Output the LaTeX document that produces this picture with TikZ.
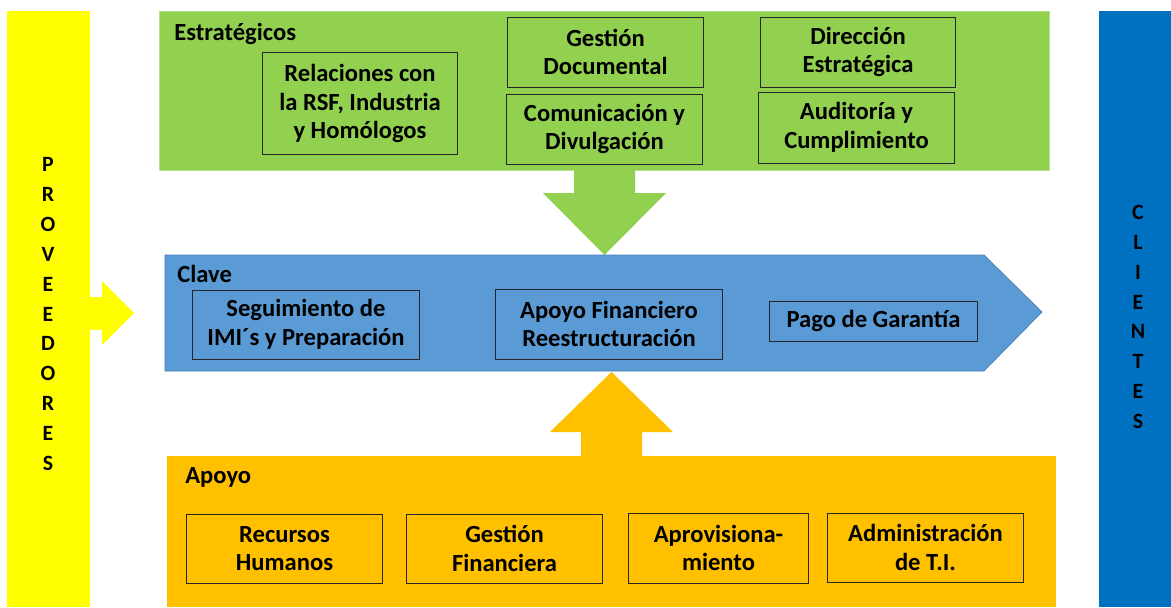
\documentclass[tikz,border=0pt]{standalone}
\usepackage{fontspec}
\setmainfont{Carlito}
\usetikzlibrary{positioning}
\definecolor{provyellow}{HTML}{FFFF00}
\definecolor{estgreen}{HTML}{92D050}
\definecolor{estedge}{HTML}{B4E38A}
\definecolor{claveblue}{HTML}{5B9BD5}
\definecolor{claveedge}{HTML}{4A7FB5}
\definecolor{apoyoorange}{HTML}{FFC000}
\definecolor{clientblue}{HTML}{0070C0}

\begin{document}
\begin{tikzpicture}[x=0.025cm,y=-0.025cm,
    panel/.style={inner sep=0pt, outer sep=0pt},
    procbox/.style={draw=black!85, line width=0.7pt, align=center, inner sep=0pt,
        font=\bfseries\fontsize{17.5}{20.4}\selectfont},
    grouptitle/.style={anchor=base west, inner sep=0pt, font=\bfseries\fontsize{17.5}{20.4}\selectfont},
    sideword/.style={align=center, inner sep=0pt, font=\bfseries\fontsize{15.5}{21.2}\selectfont}]
                        \useasboundingbox (0,0) rectangle (1171,607);

                        % Drawing side bar Proveedores
                        \node[panel, fill=provyellow, minimum width=2.075cm, minimum height=14.9cm] (prov) at (48.5,309) {};%
                        \node[sideword] (provtext) at (48,314) {P\\R\\O\\V\\E\\E\\D\\O\\R\\E\\S};%

                        % Drawing side bar Clientes
                        \node[panel, fill=clientblue, minimum width=1.8cm, minimum height=14.9cm] (cli) at (1135,309) {};%
                        \node[sideword] (clitext) at (1138,317) {C\\L\\I\\E\\N\\T\\E\\S};%

                        % Drawing arrow from Proveedores
                        \fill[provyellow] (89,297) -- (102,297) -- (102,281) -- (134,313) -- (102,345) -- (102,330) -- (89,330) -- cycle;%

                        % Drawing panel Estrategicos
                        \node[panel, fill=estgreen, draw=estedge, line width=0.6pt, minimum width=22.225cm, minimum height=3.975cm] (estrat) at (604.5,90.5) {};%
                        \node[grouptitle] (estrattitle) at (174,40) {Estratégicos};%

                        % Drawing arrow Estrategicos to Clave
                        \fill[estgreen] (574,169) -- (635,169) -- (635,193) -- (666,193) -- (604.5,255) -- (543,193) -- (574,193) -- cycle;%

                        % Drawing panel Clave
                        \filldraw[fill=claveblue, draw=claveedge, line width=0.5pt] (165,255) -- (984,255) -- (1042,312) -- (984,371) -- (165,371) -- cycle;%
                        \node[grouptitle] (clavetitle) at (177,282) {Clave};%

                        % Drawing panel Apoyo
                        \node[panel, fill=apoyoorange, minimum width=22.225cm, minimum height=3.775cm] (apoyo) at (611.5,531.5) {};%
                        \node[grouptitle] (apoyotitle) at (185,483) {Apoyo};%

                        % Drawing arrow Apoyo to Clave
                        \fill[apoyoorange] (581,457) -- (642,457) -- (642,432) -- (673,432) -- (611.5,372) -- (550,432) -- (581,432) -- cycle;%

                        % Marking boxes Estrategicos
                        \node[procbox, minimum width=4.85cm, minimum height=2.525cm] (rsf) at (360,103.5) {Relaciones con\\la RSF, Industria\\y Homólogos};%
                        \node[procbox, minimum width=4.875cm, minimum height=1.75cm] (gesdoc) at (605.5,52) {Gestión\\Documental};%
                        \node[procbox, minimum width=4.875cm, minimum height=1.75cm] (comdiv) at (604.5,129) {Comunicación y\\Divulgación};%
                        \node[procbox, minimum width=4.85cm, minimum height=1.75cm] (direst) at (858,52) {Dirección\\Estratégica};%
                        \node[procbox, minimum width=4.875cm, minimum height=1.775cm] (audcum) at (856.5,127.5) {Auditoría y\\Cumplimiento};%

                        % Marking boxes Clave
                        \node[procbox, minimum width=5.65cm, minimum height=1.725cm] (segimi) at (306,324.5) {Seguimiento de\\IMI´s y Preparación};%
                        \node[procbox, minimum width=5.65cm, minimum height=1.75cm] (apofin) at (609,324) {Apoyo Financiero\\Reestructuración};%
                        \node[procbox, minimum width=5.175cm, minimum height=1.0cm] (pagar) at (873.5,321) {Pago de Garantía};%

                        % Marking boxes Apoyo
                        \node[procbox, minimum width=4.875cm, minimum height=1.725cm] (rrhh) at (284.5,548.5) {Recursos\\Humanos};%
                        \node[procbox, minimum width=4.875cm, minimum height=1.725cm] (gesfin) at (504.5,548.5) {Gestión\\Financiera};%
                        \node[procbox, minimum width=4.475cm, minimum height=1.75cm] (aprov) at (718.5,548) {Aprovisiona-\\miento};%
                        \node[procbox, minimum width=4.875cm, minimum height=1.725cm] (admti) at (925.5,547.5) {Administración\\de T.I.};%
                    \end{tikzpicture}
\end{document}
